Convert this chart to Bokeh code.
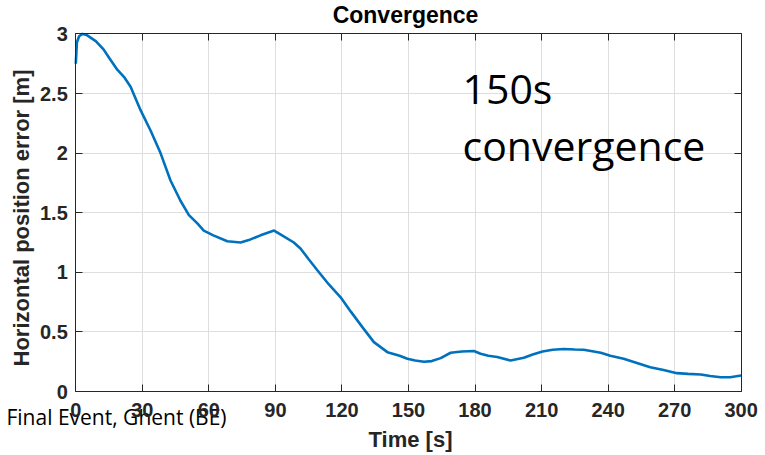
import math
from bokeh.plotting import figure
from bokeh.models import Range1d, LinearAxis, Label, FixedTicker
from bokeh.embed import file_html
from bokeh.resources import INLINE

# ---- data ----
time_s = [0, 0.5, 1.5, 3, 5, 9, 12.5, 15, 18.7, 21.7, 24.7, 29.2, 33.7, 38.2,
          42.7, 47.2, 51, 54.8, 57.7, 62, 68.3, 74.3, 78, 83.3, 89.4, 93, 98.3,
          101.3, 105, 108.9, 114, 119.4, 124, 129.2, 134.4, 140.5, 146, 149.5,
          153, 157, 160.5, 164.5, 169, 174, 179.5, 182.5, 186, 190, 196, 202,
          206, 210.4, 215, 220, 225, 229, 236.7, 241, 247, 253, 259, 265, 271,
          276, 281.8, 286, 290.8, 295, 300]
error_m = [2.75, 2.93, 2.98, 3.0, 2.99, 2.94, 2.87, 2.80, 2.70, 2.64, 2.557,
           2.36, 2.19, 2.0, 1.77, 1.6, 1.48, 1.41, 1.35, 1.31, 1.26, 1.25, 1.27,
           1.31, 1.35, 1.31, 1.25, 1.20, 1.11, 1.017, 0.90, 0.79, 0.67, 0.54,
           0.414, 0.33, 0.30, 0.275, 0.26, 0.25, 0.255, 0.28, 0.325, 0.335,
           0.34, 0.317, 0.30, 0.29, 0.26, 0.283, 0.31, 0.336, 0.35, 0.356,
           0.352, 0.35, 0.325, 0.30, 0.275, 0.24, 0.204, 0.18, 0.154, 0.148,
           0.143, 0.13, 0.12, 0.12, 0.134]
x_ticks = [0, 30, 60, 90, 120, 150, 180, 210, 240, 270, 300]
y_ticks = [0, 0.5, 1, 1.5, 2, 2.5, 3]
title_text = "Convergence"
x_label = "Time [s]"
y_label = "Horizontal position error [m]"
note_lines = ["150s", "convergence"]
footer_text = "Final Event, Ghent (BE)"

AX = "#262626"
FONT = "Liberation Sans"

# canvas-wide frame; plot box spans 0..300 s and 0..3 m inside it
W, H = 765, 455
PX_LEFT, PX_RIGHT, PX_TOP, PX_BOTTOM = 75.3, 740.7, 33.4, 391.0
sx = (PX_RIGHT - PX_LEFT) / 300.0
sy = (PX_BOTTOM - PX_TOP) / 3.0
x_range = Range1d(-PX_LEFT / sx, (W - PX_LEFT) / sx)
y_range = Range1d(-(H - PX_BOTTOM) / sy, PX_BOTTOM / sy)

def X(px):
    return (px - PX_LEFT) / sx

def Y(py):
    return (PX_BOTTOM - py) / sy

p = figure(width=W, height=H, output_backend="svg", toolbar_location=None,
           x_range=x_range, y_range=y_range,
           min_border_left=0, min_border_right=0, min_border_top=0,
           min_border_bottom=0)
p.background_fill_color = "white"
p.border_fill_color = "white"
p.outline_line_color = None

def style_axis(ax, ticks, bounds, loc, labels=True):
    ax.ticker = FixedTicker(ticks=ticks)
    ax.bounds = bounds
    ax.fixed_location = loc
    ax.major_tick_in = 7
    ax.major_tick_out = 0
    ax.minor_tick_line_color = None
    ax.axis_line_color = AX
    ax.major_tick_line_color = AX
    if labels:
        ax.major_label_text_font = FONT
        ax.major_label_text_font_style = "bold"
        ax.major_label_text_font_size = "20px"
        ax.major_label_text_color = AX
    else:
        ax.major_label_text_font_size = "1px"
        ax.major_label_text_color = None
        ax.major_label_standoff = 0

style_axis(p.xaxis[0], x_ticks, (0, 300), 0)
style_axis(p.yaxis[0], y_ticks, (0, 3), 0)
p.xaxis[0].major_label_standoff = 11
p.yaxis[0].major_label_standoff = 8

top_ax = LinearAxis()
style_axis(top_ax, x_ticks, (0, 300), 3, labels=False)
p.add_layout(top_ax, "above")
right_ax = LinearAxis()
style_axis(right_ax, y_ticks, (0, 3), 300, labels=False)
p.add_layout(right_ax, "right")

p.xgrid.ticker = FixedTicker(ticks=x_ticks)
p.ygrid.ticker = FixedTicker(ticks=y_ticks)
p.xgrid.bounds = (0, 300)
p.ygrid.bounds = (0, 3)
p.xgrid.cross_bounds = (0, 3)
p.ygrid.cross_bounds = (0, 300)
p.xgrid.grid_line_color = "#dedede"
p.ygrid.grid_line_color = "#dedede"

p.line(time_s, error_m, line_color="#0072BD", line_width=2.6)

def add_text(x, y, text, font, size, style="normal", align="left", angle=0.0,
             color="black", level="annotation"):
    p.add_layout(Label(x=x, y=y, text=text, text_font=font,
                       text_font_size=size, text_font_style=style,
                       text_color=color, text_align=align,
                       text_baseline="middle", angle=angle, level=level))

# footer drawn beneath the axis tick labels, as in the reference
add_text(X(226), Y(416.5), footer_text, "Open Sans", "21px", align="right",
         level="underlay")
add_text(X(405), Y(14.5), title_text, FONT, "23px", "bold", "center")
add_text(X(410), Y(439), x_label, FONT, "22px", "bold", "center", color=AX)
add_text(X(21.4), Y(217.5), y_label, FONT, "22px", "bold", "center",
         angle=math.pi / 2, color=AX)
add_text(X(462), Y(87.4), note_lines[0], "Open Sans", "41px")
add_text(X(462), Y(144.1), note_lines[1], "Open Sans", "41px")

open("out.html", "w").write(file_html(p, INLINE))
